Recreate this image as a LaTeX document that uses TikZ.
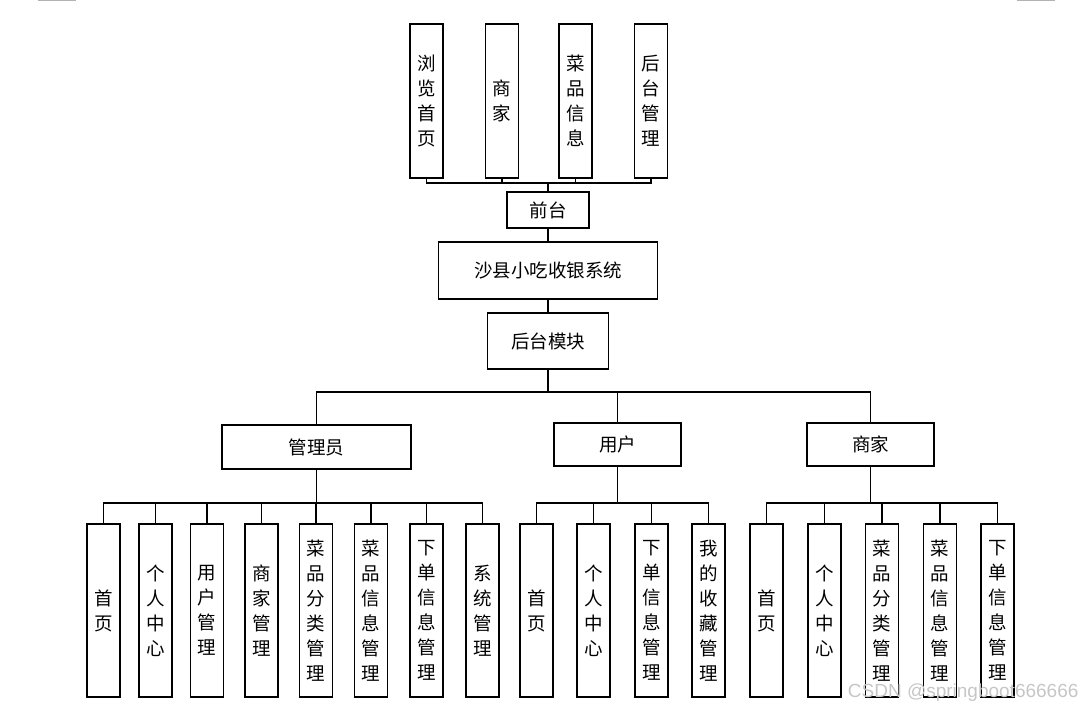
\documentclass[tikz,border=0pt]{standalone}
\usepackage{fontspec}
\newfontfamily\cjk{Noto Sans CJK SC}
\setsansfont{Liberation Sans}

\begin{document}
\begin{tikzpicture}[x=1pt,y=-1pt,line width=1.1pt,
      box/.style={draw,inner sep=0pt,font=\cjk\fontsize{18.5}{25}\selectfont},
      hbox/.style={box,minimum height=#1},
      tallbox/.style={box,text width=33pt,align=center,minimum height=#1}]

      \useasboundingbox (0,0) rectangle (1083,711);
      \draw[gray!60,line width=1.5pt] (38,0) -- (76,0) (1017,0) -- (1055,0);

      % front part
      \node[tallbox=154pt] (llsy) at (426.5,101) {浏\\览\\首\\页};
      \node[tallbox=154pt] (sjq) at (502,101) {商\\家};
      \node[tallbox=154pt] (cpxx) at (575.5,101) {菜\\品\\信\\息};
      \node[tallbox=154pt] (htgl) at (651,101) {后\\台\\管\\理};
      \node[hbox=36pt,minimum width=82pt] (qt) at (548,210) {前台};

      % system and back part
      \node[hbox=57pt,minimum width=219pt] (xt) at (548,270.5) {沙县小吃收银系统};
      \node[hbox=56pt,minimum width=121pt] (htmk) at (548,341) {后台模块};

      \node[hbox=44pt,minimum width=189pt] (gly) at (316.5,447) {管理员};
      \node[hbox=43pt,minimum width=127pt] (yh) at (617.5,444.5) {用户};
      \node[hbox=43pt,minimum width=127pt] (sj) at (870.5,444.5) {商家};

      % admin
      \node[tallbox=173pt] (g1) at (103.5,610.5) {首\\页};
      \node[tallbox=173pt] (g2) at (155.5,610.5) {个\\人\\中\\心};
      \node[tallbox=173pt] (g3) at (207,610.5) {用\\户\\管\\理};
      \node[tallbox=173pt] (g4) at (261.5,610.5) {商\\家\\管\\理};
      \node[tallbox=173pt] (g5) at (316,610.5) {菜\\品\\分\\类\\管\\理};
      \node[tallbox=173pt] (g6) at (371,610.5) {菜\\品\\信\\息\\管\\理};
      \node[tallbox=173pt] (g7) at (426.5,610.5) {下\\单\\信\\息\\管\\理};
      \node[tallbox=173pt] (g8) at (482.5,610.5) {系\\统\\管\\理};

      % user
      \node[tallbox=173pt] (u1) at (536.5,610.5) {首\\页};
      \node[tallbox=173pt] (u2) at (593.5,610.5) {个\\人\\中\\心};
      \node[tallbox=173pt] (u3) at (651.5,610.5) {下\\单\\信\\息\\管\\理};
      \node[tallbox=173pt] (u4) at (708.5,610.5) {我\\的\\收\\藏\\管\\理};

      % merchant
      \node[tallbox=173pt] (s1) at (766.5,610.5) {首\\页};
      \node[tallbox=173pt] (s2) at (824.5,610.5) {个\\人\\中\\心};
      \node[tallbox=173pt] (s3) at (882,610.5) {菜\\品\\分\\类\\管\\理};
      \node[tallbox=173pt] (s4) at (940,610.5) {菜\\品\\信\\息\\管\\理};
      \node[tallbox=173pt] (s5) at (997.5,610.5) {下\\单\\信\\息\\管\\理};

      % connectors
      \coordinate (qtbus) at (548,183);
      \coordinate (mbus) at (548,392);
      \coordinate (gbus) at (316.5,503);
      \coordinate (ubus) at (617.5,503);
      \coordinate (sbus) at (870.5,503);

      \draw (llsy.south) |- (qtbus);
      \draw (sjq.south) |- (qtbus);
      \draw (cpxx.south) |- (qtbus);
      \draw (htgl.south) |- (qtbus);
      \draw (qtbus) -- (qt.north);
      \draw (qt.south) -- (qt.south |- xt.north);
      \draw (xt.south) -- (xt.south |- htmk.north);

      \draw (htmk.south) -- (mbus);
      \draw (gly.north) |- (mbus);
      \draw (yh.north) |- (mbus);
      \draw (sj.north) |- (mbus);

      \draw (gly.south) -- (gbus);
      \draw (g1.north) |- (gbus);
      \draw (g2.north) |- (gbus);
      \draw (g3.north) |- (gbus);
      \draw (g4.north) |- (gbus);
      \draw (g5.north) |- (gbus);
      \draw (g6.north) |- (gbus);
      \draw (g7.north) |- (gbus);
      \draw (g8.north) |- (gbus);

      \draw (yh.south) -- (ubus);
      \draw (u1.north) |- (ubus);
      \draw (u2.north) |- (ubus);
      \draw (u3.north) |- (ubus);
      \draw (u4.north) |- (ubus);

      \draw (sj.south) -- (sbus);
      \draw (s1.north) |- (sbus);
      \draw (s2.north) |- (sbus);
      \draw (s3.north) |- (sbus);
      \draw (s4.north) |- (sbus);
      \draw (s5.north) |- (sbus);

      \node[anchor=east,text=gray!45,font=\sffamily\fontsize{19}{19}\selectfont,inner sep=0pt] (wm) at (1079,693) {CSDN @springboot666666};
    \end{tikzpicture}
\end{document}
